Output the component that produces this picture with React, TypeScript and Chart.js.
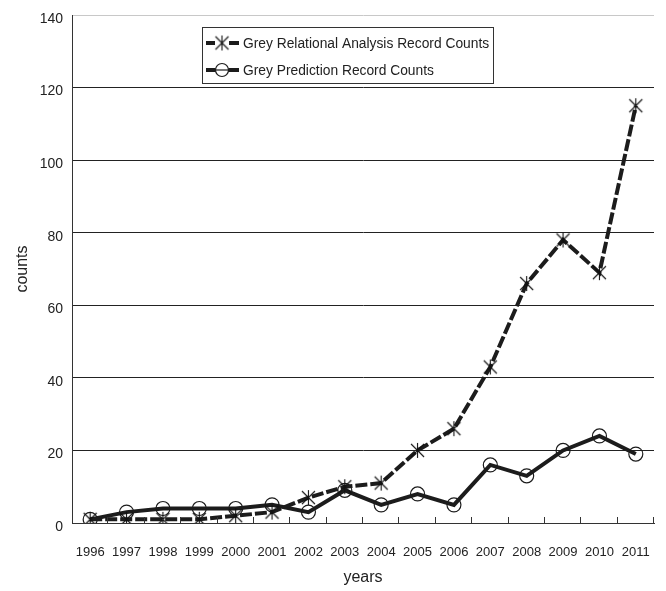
import React, { useEffect, useRef } from 'react';
import { Chart, registerables } from 'chart.js';

Chart.register(...registerables);

const years = ['1996', '1997', '1998', '1999', '2000', '2001', '2002', '2003', '2004', '2005', '2006', '2007', '2008', '2009', '2010', '2011'];
const relationalCounts = [1, 1, 1, 1, 2, 3, 7, 10, 11, 20, 26, 43, 66, 78, 69, 115];
const predictionCounts = [1, 3, 4, 4, 4, 5, 3, 9, 5, 8, 5, 16, 13, 20, 24, 19];
const yTickValues = [0, 20, 40, 60, 80, 100, 120, 140];
const seriesLabels = ['Grey Relational Analysis Record Counts', 'Grey Prediction Record Counts'];
const axisTitles = { x: 'years', y: 'counts' };

const FONT = "'Liberation Sans', Arial, sans-serif";
const INK = '#1c1c1c';

function makeStarMarker(): HTMLCanvasElement {
  const c = document.createElement('canvas');
  c.width = 17;
  c.height = 17;
  const g = c.getContext('2d')!;
  g.strokeStyle = '#111';
  g.lineWidth = 1.1;
  g.beginPath();
  g.moveTo(2, 2); g.lineTo(15, 15);
  g.moveTo(15, 2); g.lineTo(2, 15);
  g.moveTo(8.5, 1); g.lineTo(8.5, 16);
  g.stroke();
  return c;
}

export default function App() {
  const ref = useRef<HTMLCanvasElement>(null);

  useEffect(() => {
    const star = makeStarMarker();

    const decorPlugin = {
      id: 'decor',
      afterDraw(chart: any) {
        const { ctx, chartArea } = chart;
        ctx.save();
        // inward ticks on x axis at category boundaries
        ctx.strokeStyle = '#333';
        ctx.lineWidth = 1;
        const n = years.length;
        const step = (chartArea.right - chartArea.left) / n;
        for (let i = 1; i <= n; i++) {
          const x = Math.round(chartArea.left + step * i) - 0.5;
          ctx.beginPath();
          ctx.moveTo(x, chartArea.bottom);
          ctx.lineTo(x, chartArea.bottom - 6);
          ctx.stroke();
        }
        // legend box
        const bx = 202.5, by = 27.5, bw = 291, bh = 56;
        ctx.fillStyle = '#fff';
        ctx.fillRect(bx, by, bw, bh);
        ctx.strokeStyle = '#333';
        ctx.lineWidth = 1;
        ctx.strokeRect(bx, by, bw, bh);
        const rows = [43, 70];
        ctx.font = `13.8px ${FONT}`;
        ctx.textBaseline = 'middle';
        ctx.textAlign = 'left';
        rows.forEach((ry, i) => {
          ctx.strokeStyle = INK;
          ctx.lineWidth = 4;
          ctx.beginPath();
          if (i === 0) {
            ctx.moveTo(206, ry); ctx.lineTo(215, ry);
            ctx.moveTo(229, ry); ctx.lineTo(239, ry);
          } else {
            ctx.moveTo(206, ry); ctx.lineTo(239, ry);
          }
          ctx.stroke();
          if (i === 0) {
            ctx.drawImage(star, 222 - 8.5, ry - 8.5);
          } else {
            ctx.lineWidth = 1.2;
            ctx.fillStyle = '#fff';
            ctx.beginPath();
            ctx.arc(222, ry, 6.5, 0, Math.PI * 2);
            ctx.fill();
            ctx.stroke();
            ctx.beginPath();
            ctx.moveTo(215.5, ry); ctx.lineTo(228.5, ry);
            ctx.stroke();
          }
          ctx.fillStyle = '#222';
          ctx.fillText(seriesLabels[i], 243, ry + 1);
        });
        ctx.restore();
      },
    };

    const chart = new Chart(ref.current!, {
      type: 'line',
      data: {
        labels: years,
        datasets: [
          {
            label: seriesLabels[0],
            data: relationalCounts,
            borderColor: INK,
            borderWidth: 4,
            borderDash: [12, 3],
            pointStyle: star as any,
            pointRadius: 8,
            backgroundColor: 'rgba(0,0,0,0)',
            tension: 0,
          },
          {
            label: seriesLabels[1],
            data: predictionCounts,
            borderColor: INK,
            borderWidth: 4,
            pointStyle: 'circle',
            pointRadius: 7,
            pointBorderWidth: 1.2,
            pointBorderColor: INK,
            pointBackgroundColor: 'rgba(0,0,0,0)',
            backgroundColor: 'rgba(0,0,0,0)',
            tension: 0,
          },
        ],
      },
      options: {
        responsive: false,
        animation: false,
        layout: { padding: { left: 0, right: 7, top: 15, bottom: 0 } },
        plugins: {
          legend: { display: false },
          tooltip: { enabled: false },
        },
        scales: {
          x: {
            offset: true,
            grid: { display: false, drawTicks: false, offset: true },
            border: { display: true, color: '#333', width: 1 },
            ticks: {
              color: '#222',
              font: { family: FONT, size: 13 },
              padding: 22,
              maxRotation: 0,
              autoSkip: false,
            },
            title: {
              display: true,
              text: axisTitles.x,
              color: '#222',
              font: { family: FONT, size: 16 },
              padding: { top: 0, bottom: 4 },
            },
            afterFit: (s: any) => { s.height = 68; s.paddingLeft = 0; s.paddingRight = 0; },
          },
          y: {
            min: 0,
            max: 140,
            afterBuildTicks: (s: any) => { s.ticks = yTickValues.map((v) => ({ value: v })); },
            grid: {
              drawTicks: false,
              color: (c: any) => (c.tick && c.tick.value === 140 ? '#c8c8c8' : '#222'),
              lineWidth: 1,
            },
            border: { display: true, color: '#333', width: 1 },
            ticks: {
              color: '#222',
              font: { family: FONT, size: 14 },
              padding: 9,
              labelOffset: 4,
            },
            title: {
              display: true,
              text: axisTitles.y,
              color: '#222',
              font: { family: FONT, size: 16 },
              padding: { top: 13, bottom: 0 },
            },
            afterFit: (s: any) => { s.width = 72; s.paddingTop = 0; s.paddingBottom = 0; },
          },
        },
      },
      plugins: [decorPlugin],
    });
    return () => chart.destroy();
  }, []);

  return (
    <div style={{ position: 'absolute', left: 0, top: 0, width: 666, height: 591, background: '#fff' }}>
      <canvas ref={ref} width={666} height={591} style={{ display: 'block' }} />
    </div>
  );
}
